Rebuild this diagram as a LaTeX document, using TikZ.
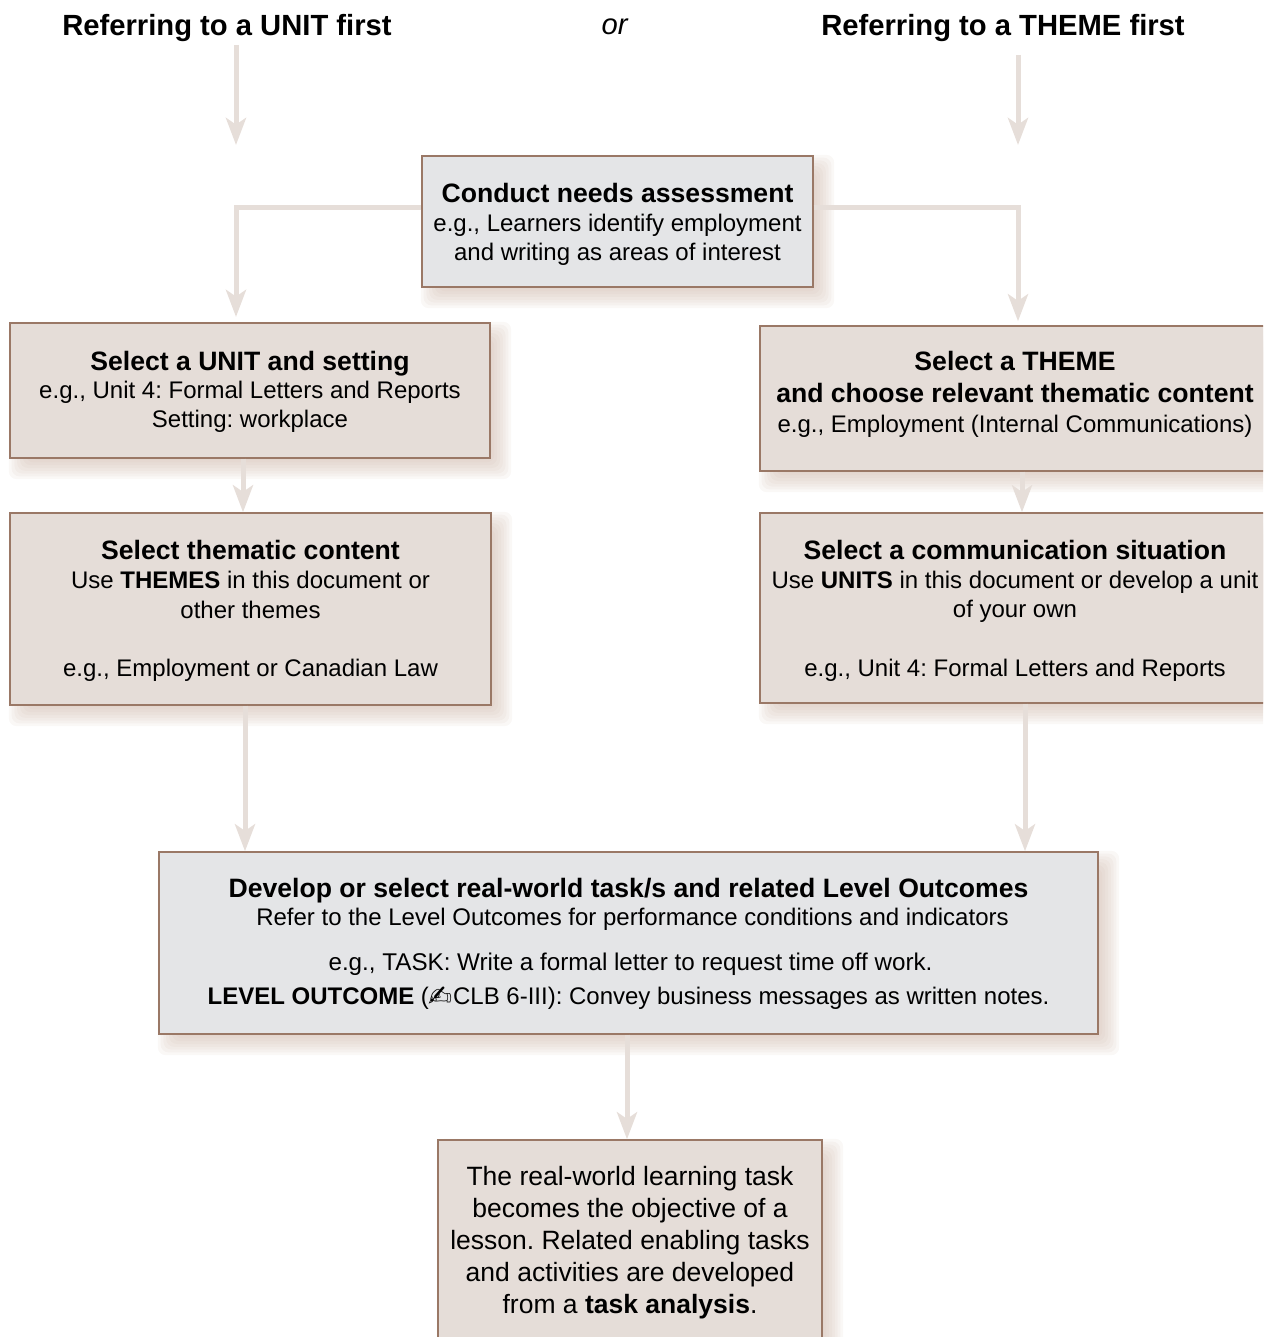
\documentclass[tikz,border=0pt]{standalone}
\usepackage{fontspec}
\setmainfont{Liberation Sans}
\newfontfamily\penfont{DejaVu Sans}
\usetikzlibrary{arrows.meta,calc}
\definecolor{panelgray}{HTML}{E4E5E7}
\definecolor{panelbeige}{HTML}{E5DDD8}
\definecolor{edgebrown}{HTML}{9A7866}
\definecolor{flowtint}{HTML}{E6DED9}
\definecolor{shadowtint}{HTML}{CDB6A8}
\newcommand{\lines}[2]{\fontsize{\fpeval{#1*0.75}pt}{\fpeval{#2*0.75}pt}\selectfont\frenchspacing}
\newcommand{\hd}[1]{{\fontsize{19.95pt}{19.95pt}\selectfont\bfseries #1}}
\newcommand{\dn}[1]{\\[\fpeval{#1*0.75}pt]}
\newcommand{\padtop}[1]{\rule{0pt}{\fpeval{(19.5+2*#1)*0.75}pt}}
\newcommand{\panel}[7]{%
  \foreach \i in {0,...,9}{
    \fill[shadowtint,opacity=.1,rounded corners=6pt]
      ({#3+10+14-2.8*\i},{#4+10+14-2.8*\i}) rectangle ({#5+10-14+2.8*\i},{#6+10-14+2.8*\i});
  }
  \node[#2,minimum width={(#5-#3)*0.75pt},minimum height={(#6-#4)*0.75pt}] (#1) at ({(#3+#5)/2},{(#4+#6)/2}) {#7};
}
\tikzset{
  x=.75pt,y=-.75pt,
  panelbase/.style={draw=edgebrown,line width=1.1pt,inner sep=0pt,align=center,text=black,font=\lines{24}{29.3}},
  graypanel/.style={panelbase,fill=panelgray},
  beigepanel/.style={panelbase,fill=panelbeige},
  heading/.style={inner sep=0pt,font=\lines{29.2}{32}\bfseries},
  flow/.style={draw=flowtint,line width=3.75pt,-{Stealth[length=20.25pt,width=15pt,inset=5pt]}}
}
\begin{document}
\begin{tikzpicture}
\useasboundingbox (0,0) rectangle (1263,1337);
\clip (0,0) rectangle (1263,1337);
\node[heading] (unit) at (227,28) {Referring to a UNIT first};
\node[heading,font=\lines{29.2}{32}\itshape] (ortext) at (614.5,27) {or};
\node[heading] (theme) at (1003,28) {Referring to a THEME first};

\panel{needs}{graypanel,font=\lines{24}{29}}{422}{156}{813}{287}{\padtop{2.5}\hd{Conduct needs assessment}\\e.g., Learners identify employment\\and writing as areas of interest}
\panel{lone}{beigepanel,font=\lines{24}{28.5}}{10}{323}{490}{458}{\padtop{1}\hd{Select a UNIT and setting}\\e.g., Unit 4: Formal Letters and Reports\\Setting: workplace}
\panel{ltwo}{beigepanel}{10}{513}{491}{705}{\padtop{2}\hd{Select thematic content}\\Use \textbf{THEMES} in this document or\\other themes\dn{29.3}e.g., Employment or Canadian Law}
\panel{rone}{beigepanel,font=\lines{24}{30}}{760}{326}{1270}{471}{\hd{Select a THEME}\dn{2}\hd{and choose relevant thematic content}\\e.g., Employment (Internal Communications)\\[-13pt]\mbox{}}
\panel{rtwo}{beigepanel}{760}{513}{1270}{703}{\padtop{2.5}\hd{Select a communication situation}\\Use \textbf{UNITS} in this document or develop a unit\\of your own\dn{29.3}e.g., Unit 4: Formal Letters and Reports}
\panel{dev}{graypanel,font=\lines{24}{28}}{159}{852}{1098}{1034}{\padtop{1}\hd{Develop or select real-world task/s and related Level Outcomes}\\\hspace*{6pt}Refer to the Level Outcomes for performance conditions and indicators\dn{17}{\fontsize{18.15pt}{21pt}\selectfont\hspace*{3pt}e.g., TASK: Write a formal letter to request time off work.}\dn{6}\textbf{LEVEL OUTCOME} ({\penfont\smash{\raisebox{-1.5pt}{\fontsize{21.6pt}{21.6pt}\selectfont ✍}}}CLB 6-III): Convey business messages as written notes.}
\panel{last}{beigepanel,font=\lines{26.5}{32}}{438}{1140}{822}{1342}{\padtop{1}The real-world learning task\\becomes the objective of a\\lesson. Related enabling tasks\\and activities are developed\\from a \textbf{task analysis}.}

\coordinate (xa) at (236,0);
\coordinate (xb) at (1018,0);
\coordinate (xc) at (243,0);
\coordinate (xd) at (1022,0);
\coordinate (xe) at (245,0);
\coordinate (xf) at (1025,0);
\coordinate (xg) at (627,0);
\coordinate (ybranch) at (0,208);
\coordinate (unitstop) at (236,145);
\coordinate (themestop) at (1018,145);

\draw[flow] ($(unit.south -| xa)+(0,3)$) -- (unitstop);
\draw[flow] ($(theme.south -| xb)+(0,13)$) -- (themestop);
\draw[flow,shorten >=4pt] (needs.west |- ybranch) -| (lone.north -| xa);
\draw[flow,shorten >=3pt] (needs.east |- ybranch) -| (rone.north -| xb);
\draw[flow] (lone.south -| xc) -- (ltwo.north -| xc);
\draw[flow] (rone.south -| xd) -- (rtwo.north -| xd);
\draw[flow] (ltwo.south -| xe) -- (dev.north -| xe);
\draw[flow] (rtwo.south -| xf) -- (dev.north -| xf);
\draw[flow] (dev.south -| xg) -- (last.north -| xg);
\end{tikzpicture}
\end{document}
